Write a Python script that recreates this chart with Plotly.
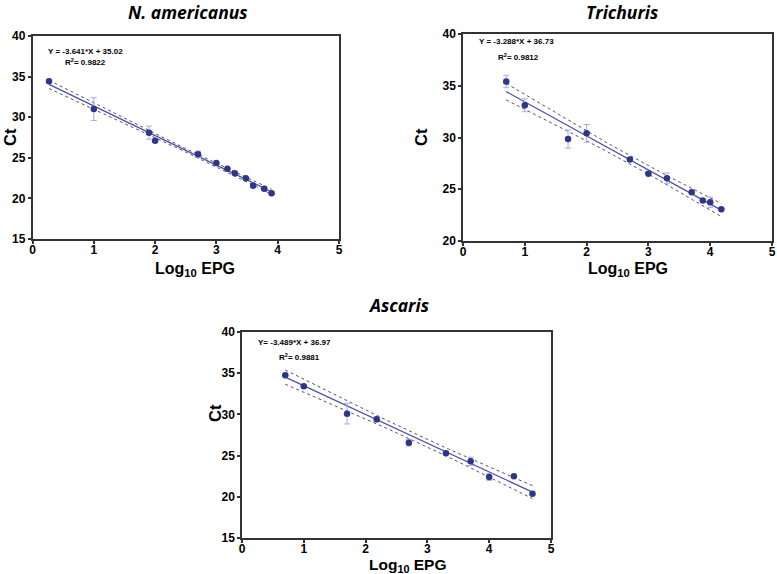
import numpy as np
import plotly.graph_objects as go

# ---------------- data ----------------
na_x = [0.27, 1.0, 1.9, 2.0, 2.7, 3.0, 3.18, 3.3, 3.48, 3.6, 3.78, 3.9]
na_y = [34.42, 31.0, 28.1, 27.1, 25.43, 24.36, 23.66, 23.09, 22.47, 21.57, 21.2, 20.62]
na_err = [0.0, 1.4, 0.8, 0.0, 0.4, 0.0, 0.0, 0.0, 0.0, 0.0, 0.0, 0.0]
na_fit = (-3.641, 35.02)

tr_x = [0.7, 1.0, 1.7, 2.0, 2.7, 3.0, 3.3, 3.7, 3.88, 4.0, 4.18]
tr_y = [35.41, 33.12, 29.85, 30.4, 27.88, 26.49, 26.07, 24.72, 23.91, 23.75, 23.07]
tr_err = [0.6, 0.63, 0.87, 0.85, 0.0, 0.0, 0.5, 0.0, 0.0, 0.5, 0.0]
tr_fit = (-3.288, 36.73)

as_x = [0.7, 1.0, 1.7, 2.18, 2.7, 3.3, 3.7, 4.0, 4.4, 4.7]
as_y = [34.74, 33.41, 30.09, 29.4, 26.57, 25.28, 24.3, 22.4, 22.48, 20.38]
as_err = [0.0, 0.0, 1.25, 0.3, 0.4, 0.0, 0.5, 0.4, 0.0, 0.0]
as_fit = (-3.489, 36.97)

titles = ["N. americanus", "Trichuris", "Ascaris"]
equations = ["Y = -3.641*X + 35.02", "Y = -3.288*X + 36.73", "Y= -3.489*X + 36.97"]
r2_labels = ["R<sup>2</sup>= 0.9822", "R<sup>2</sup>= 0.9812", "R<sup>2</sup>= 0.9881"]
x_ticks = [0, 1, 2, 3, 4, 5]
y_ranges = [(15, 40), (20, 40), (15, 40)]
t_crit = {8: 2.306, 9: 2.262, 10: 2.228}

# ---------------- styling ----------------
MARKER = "#2f3589"
LINE = "#4a4fb0"
ERR = "#a9a9ee"
BAND = "#555555"
AXC = "#333333"
FONT = "Liberation Sans, Arial, sans-serif"

W, H = 777, 574
def dx(a, b): return [a / W, b / W]
def dy(top, bot): return [1 - bot / H, 1 - top / H]

domains = [
    (dx(32.5, 339), dy(36, 239)),
    (dx(463, 772), dy(34, 241)),
    (dx(242, 551), dy(332, 538)),
]

datasets = [(na_x, na_y, na_err, na_fit), (tr_x, tr_y, tr_err, tr_fit), (as_x, as_y, as_err, as_fit)]

fig = go.Figure()
for i, (xs, ys, es, (m, b)) in enumerate(datasets):
    xa = "x" if i == 0 else f"x{i+1}"
    ya = "y" if i == 0 else f"y{i+1}"
    xs_a = np.array(xs); ys_a = np.array(ys)
    n = len(xs_a)
    xl = np.linspace(xs_a.min(), xs_a.max(), 60)
    yl = m * xl + b
    resid = ys_a - (m * xs_a + b)
    s = np.sqrt((resid ** 2).sum() / (n - 2))
    xbar = xs_a.mean(); sxx = ((xs_a - xbar) ** 2).sum()
    hw = t_crit[n - 2] * s * np.sqrt(1 / n + (xl - xbar) ** 2 / sxx)
    for band in (yl + hw, yl - hw):
        fig.add_trace(go.Scatter(x=xl, y=band, mode="lines", xaxis=xa, yaxis=ya,
                                 line=dict(color=BAND, width=1, dash="dot"),
                                 showlegend=False, hoverinfo="skip"))
    fig.add_trace(go.Scatter(x=xl, y=yl, mode="lines", xaxis=xa, yaxis=ya,
                             line=dict(color=LINE, width=1.3), showlegend=False))
    fig.add_trace(go.Scatter(x=xs, y=ys, mode="markers", xaxis=xa, yaxis=ya,
                             marker=dict(color=MARKER, size=6.5),
                             error_y=dict(type="data", array=es, visible=True,
                                          color=ERR, thickness=1, width=3),
                             showlegend=False))

layout = dict(width=W, height=H, margin=dict(l=0, r=0, t=0, b=0),
              paper_bgcolor="white", plot_bgcolor="white", showlegend=False,
              font=dict(family=FONT, color="black"))
annotations = []
title_pos = [(188, 12), (622, 12), (398, 305)]
xlabel_pos = [(195, 269), (628, 269), (408, 565)]
ylabel_pos = [(10, 137), (421, 137), (215, 413)]
xlabel_size = [16, 16, 15.5]
eq_pos = [(46, 51, 63, 62), (477, 42, 496, 57), (256, 342, 277, 357)]
for i in range(3):
    xk = "xaxis" if i == 0 else f"xaxis{i+1}"
    yk = "yaxis" if i == 0 else f"yaxis{i+1}"
    ya = "y" if i == 0 else f"y{i+1}"
    xa = "x" if i == 0 else f"x{i+1}"
    common = dict(showgrid=False, zeroline=False, showline=True, linecolor=AXC, linewidth=1.5,
                  mirror=True, ticks="outside", ticklen=3, tickwidth=1.5, tickcolor=AXC,
                  automargin=False,
                  tickfont=dict(family=FONT, size=12, color="black", weight="bold"))
    layout[xk] = dict(common, domain=domains[i][0], range=[0, 5], tickvals=x_ticks,
                      anchor=ya, fixedrange=True, ticklabelstandoff=-4)
    y0, y1 = y_ranges[i]
    layout[yk] = dict(common, domain=domains[i][1], range=[y0, y1],
                      tickvals=list(range(y0, y1 + 1, 5)), anchor=xa, fixedrange=True)
    tx, ty = title_pos[i]
    annotations.append(dict(x=tx / W, y=1 - ty / H, xref="paper", yref="paper", showarrow=False,
                            text=f"<b><i>{titles[i]}</i></b>", xanchor="center", yanchor="middle",
                            font=dict(family="Open Sans, sans-serif", size=17.5, color="black")))
    lx, ly = xlabel_pos[i]
    annotations.append(dict(x=lx / W, y=1 - ly / H, xref="paper", yref="paper", showarrow=False,
                            text="<b>Log<sub>10</sub> EPG</b>", xanchor="center", yanchor="middle",
                            font=dict(family=FONT, size=xlabel_size[i], color="black")))
    cx, cy = ylabel_pos[i]
    annotations.append(dict(x=cx / W, y=1 - cy / H, xref="paper", yref="paper", showarrow=False,
                            text="<b>Ct</b>", textangle=-90, xanchor="center", yanchor="middle",
                            font=dict(family=FONT, size=16.5, color="black")))
    ex, ey, rx, ry = eq_pos[i]
    annotations.append(dict(x=ex / W, y=1 - ey / H, xref="paper", yref="paper", showarrow=False,
                            text=f"<b>{equations[i]}</b>", xanchor="left", yanchor="middle",
                            font=dict(family=FONT, size=8, color="black")))
    annotations.append(dict(x=rx / W, y=1 - ry / H, xref="paper", yref="paper", showarrow=False,
                            text=f"<b>{r2_labels[i]}</b>", xanchor="left", yanchor="middle",
                            font=dict(family=FONT, size=8, color="black")))
layout["annotations"] = annotations
fig.update_layout(**layout)
fig.write_html("out.html", config={"displayModeBar": False},
               post_script="document.body.style.margin='0';document.body.style.padding='0';")
